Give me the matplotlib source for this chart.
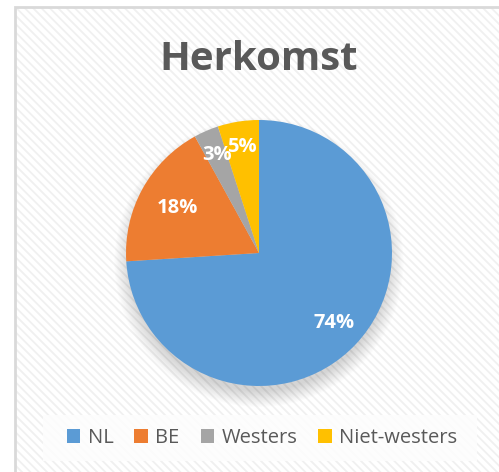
import matplotlib.pyplot as plt
import numpy as np
from matplotlib.patches import Circle, Patch, Rectangle

categories = ["NL", "BE", "Westers", "Niet-westers"]
shares = [74, 18, 3, 5]
colors = ["#5B9BD5", "#ED7D31", "#A5A5A5", "#FFC000"]
title = "Herkomst"

# label radius per wedge (fraction of pie radius), Excel "best fit" placement
label_radius = [0.77, 0.70, 0.80, 0.81]

plt.rcParams["font.family"] = ["Open Sans", "DejaVu Sans"]
plt.rcParams["hatch.linewidth"] = 1.3

fig = plt.figure(figsize=(4.99, 4.72), dpi=100)
fig.patch.set_facecolor("white")

# chart area: striped background and thin border
bg = Rectangle((15 / 499, -0.05), 1.0, 1.05 - 7.5 / 472, transform=fig.transFigure,
               facecolor="white", edgecolor="#F0F0F0", hatch="\\\\\\\\", linewidth=0, zorder=-2)
fig.patches.append(bg)
border = Rectangle((15 / 499, -0.05), 1.0, 1.05 - 7.5 / 472, transform=fig.transFigure,
                   facecolor="none", edgecolor="#D9D9D9", linewidth=2, zorder=-1)
fig.patches.append(border)

fig.text(259 / 499, 1 - 60 / 472, title, ha="center", va="center",
         fontsize=29, fontweight="bold", color="#595959")

ax = fig.add_axes([126 / 499, 86 / 472, 266 / 499, 266 / 472])
ax.set_facecolor("none")
ax.set_zorder(1)

# soft shadow under the pie, mostly below it
for i in range(14):
    ax.add_patch(Circle((0, -0.07), 0.97 + 0.009 * i, color="black", alpha=0.011, lw=0,
                        zorder=0, clip_on=False))

wedges, _ = ax.pie(shares, colors=colors, startangle=90, counterclock=False,
                   radius=1.0, wedgeprops={"linewidth": 0, "zorder": 2})
ax.set_xlim(-1, 1)
ax.set_ylim(-1, 1)
ax.set_aspect("equal")
ax.axis("off")

for w, v, r in zip(wedges, shares, label_radius):
    mid = np.deg2rad((w.theta1 + w.theta2) / 2)
    ax.text(r * np.cos(mid), r * np.sin(mid), f"{v}%", ha="center", va="center",
            fontsize=14.5, fontweight="bold", color="white", zorder=5)

# legend box
fig.patches.append(Rectangle((43 / 499, 1 - 461 / 472), 434 / 499, 46 / 472,
                             transform=fig.transFigure, facecolor="#FDFDFD",
                             edgecolor="none", alpha=0.9, zorder=2))
handles = [Patch(facecolor=c, edgecolor="none") for c in colors]
leg = fig.legend(handles, categories, loc="center", bbox_to_anchor=(262 / 499, 1 - 438 / 472),
                 ncol=4, frameon=False, fontsize=14.5, handlelength=0.68, handleheight=0.68,
                 handletextpad=0.35, columnspacing=1.05, labelcolor="#595959")
leg.set_zorder(3)

fig.savefig("out.png", dpi=100)
